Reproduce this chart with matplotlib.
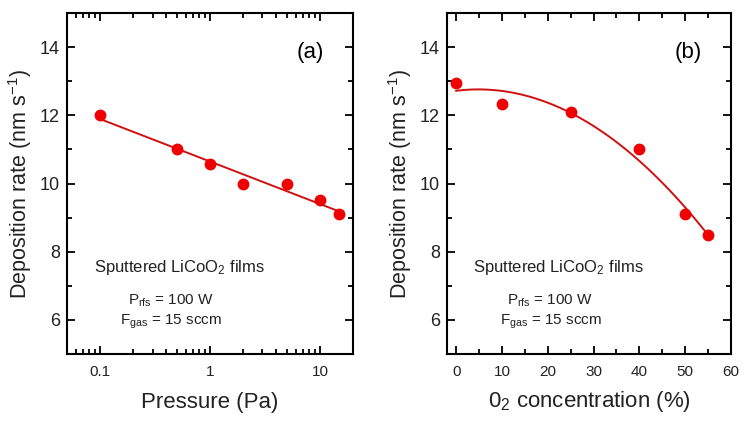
import numpy as np
import matplotlib
matplotlib.use("Agg")
import matplotlib.pyplot as plt
from matplotlib.ticker import MultipleLocator, LogLocator, FixedLocator, FixedFormatter, NullFormatter

plt.rcParams['font.family'] = ['Liberation Sans', 'DejaVu Sans']
plt.rcParams['mathtext.fontset'] = 'custom'
plt.rcParams['mathtext.rm'] = 'Liberation Sans'
plt.rcParams['mathtext.it'] = 'Liberation Sans'

# Panel (a): pressure
pressure = [0.1, 0.5, 1, 2, 5, 10, 15]
rate_a = [12.0, 11.0, 10.56, 10.0, 10.0, 9.52, 9.1]
# Panel (b): O2 concentration
o2 = [0, 10, 25, 40, 50, 55]
rate_b = [12.95, 12.32, 12.1, 11.0, 9.1, 8.48]

xticks_a = [0.1, 1, 10]
xticklabels_a = ['0.1', '1', '10']
yticks = [6, 8, 10, 12, 14]

red = '#f00000'
line_red = '#d01010'
txt = '#222222'

fig = plt.figure(figsize=(7.46, 4.22), dpi=100)
ax1 = fig.add_axes([67/746, 1-354/422, (353-67)/746, (354-13)/422])
ax2 = fig.add_axes([447/746, 1-354/422, (731-447)/746, (354-13)/422])

def style(ax):
    ax.set_ylim(5, 15)
    ax.yaxis.set_major_locator(FixedLocator(yticks))
    ax.yaxis.set_minor_locator(MultipleLocator(1))
    ax.tick_params(which='both', direction='in', top=True, right=True, colors='black',
                   labelcolor=txt, width=1.3)
    ax.tick_params(which='major', length=6)
    ax.tick_params(which='minor', length=3.5)
    ax.tick_params(axis='x', pad=8, labelsize=11)
    ax.tick_params(axis='y', pad=5, labelsize=13)
    for s in ax.spines.values():
        s.set_linewidth(1.5)
    ax.set_ylabel('Deposition rate (nm s$^{-1}$)', fontsize=15.5, color=txt, labelpad=4)

def annotate(ax, label):
    ax.text(0.85, 0.883, label, transform=ax.transAxes, fontsize=16, ha='center', va='center', color='black')
    ax.text(0.392, 0.255, 'Sputtered LiCoO$_2$ films', transform=ax.transAxes, fontsize=12, ha='center', va='center', color=txt)
    ax.text(0.362, 0.155, 'P$_{\\mathrm{rfs}}$ = 100 W', transform=ax.transAxes, fontsize=11, ha='center', va='center', color=txt)
    ax.text(0.365, 0.094, 'F$_{\\mathrm{gas}}$ = 15 sccm', transform=ax.transAxes, fontsize=11, ha='center', va='center', color=txt)

# Panel (a)
ax1.set_xscale('log')
ax1.set_xlim(0.05, 20)
style(ax1)
ax1.xaxis.set_major_locator(FixedLocator(xticks_a))
ax1.xaxis.set_major_formatter(FixedFormatter(xticklabels_a))
ax1.xaxis.set_minor_locator(LogLocator(base=10, subs=np.arange(2, 10)))
ax1.xaxis.set_minor_formatter(NullFormatter())
lx = np.log10(pressure)
coef = np.polyfit(lx, rate_a, 1)
xf = np.linspace(min(lx), max(lx), 50)
ax1.plot(10**xf, np.polyval(coef, xf), color=line_red, lw=1.4, zorder=2)
ax1.plot(pressure, rate_a, 'o', color=red, ms=7.5, zorder=3)
ax1.set_xlabel('Pressure (Pa)', fontsize=16, color=txt, labelpad=9)
annotate(ax1, '(a)')

# Panel (b)
ax2.set_xlim(-2, 60)
style(ax2)
ax2.xaxis.set_major_locator(MultipleLocator(10))
ax2.xaxis.set_minor_locator(MultipleLocator(5))
coef2 = np.polyfit(o2, rate_b, 2)
xf2 = np.linspace(min(o2), max(o2), 100)
ax2.plot(xf2, np.polyval(coef2, xf2), color=line_red, lw=1.4, zorder=2)
ax2.plot(o2, rate_b, 'o', color=red, ms=7.5, zorder=3)
ax2.set_xlabel('0$_2$ concentration (%)', fontsize=16, color=txt, labelpad=7)
annotate(ax2, '(b)')

fig.savefig('out.png', dpi=100)
